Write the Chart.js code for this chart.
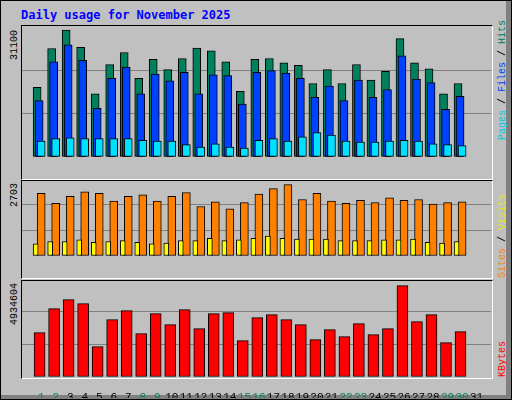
<!DOCTYPE html>
<html>
<head>
<meta charset="utf-8">
<script src="https://cdn.jsdelivr.net/npm/chart.js@4"></script>
<style>
  body { margin: 0; background: #c0c0c0; }
  #frame { position: absolute; left: 0; top: 0; width: 510px; height: 398px; border: 1px solid #000; background: #c0c0c0; overflow: hidden; }
  #bevel { position: absolute; left: 0; top: 0; width: 505px; height: 394px; border-right: 5px solid #808080; border-bottom: 4px solid #808080; }
  .title { position: absolute; left: 20px; top: 7px; font: bold 12px "DejaVu Sans Mono", monospace; color: #0000ff; }
  .panel { position: absolute; left: 20px; width: 470px; border: 1px solid; border-color: #000 #fff #fff #000; z-index: 2; pointer-events: none; }
  canvas { position: absolute; left: 21px; z-index: 1; }
  .lbl { position: absolute; font: 10px "Liberation Mono", monospace; white-space: nowrap; transform-origin: 0 0; transform: rotate(-90deg); }
</style>
</head>
<body>
<div id="frame">
  <div id="bevel"></div>
  <div class="title">Daily usage for November 2025</div>

  <div class="panel" style="top:24px;height:153px"></div>
  <div class="panel" style="top:179px;height:97px"></div>
  <div class="panel" style="top:279px;height:97px"></div>

  <canvas id="c1" width="469" height="151" style="top:26px"></canvas>
  <canvas id="c2" width="469" height="98" style="top:178px"></canvas>
  <canvas id="c3" width="469" height="120" style="top:277px"></canvas>

  <div class="lbl" style="left:8px;top:59px">31100</div>
  <div class="lbl" style="left:8px;top:206px">2703</div>
  <div class="lbl" style="left:8px;top:324px">4934604</div>

  <div class="lbl" style="left:496px;top:139px"><span style="color:#00c8e8">Pages</span> / <span style="color:#0040ff">Files</span> / <span style="color:#00805c">Hits</span></div>
  <div class="lbl" style="left:496px;top:277px"><span style="color:#ff8000">Sites</span> / <span style="color:#e8e800">Visits</span></div>
  <div class="lbl" style="left:496px;top:376px"><span style="color:#ff0000">KBytes</span></div>
</div>
<script>
  const days = Array.from({length: 31}, (_, i) => i + 1);
  const weekendDays = [1, 2, 8, 9, 15, 16, 22, 23, 29, 30];

  const hits = [16690, 25960, 30360, 26240, 15120, 22120, 25010, 18830, 23360, 20890,
    23570, 26040, 25420, 22740, 15740, 23360, 23570, 22540, 21920, 17590,
    20890, 17590, 22120, 18420, 20480, 28300, 22540, 21090, 15120, 17590];
  const files = [13470, 22740, 26860, 23150, 11620, 18830, 21510, 15120, 19860, 18210,
    20270, 15120, 19650, 19450, 12650, 20270, 20680, 20060, 18830, 14300,
    16970, 13470, 18420, 14300, 16150, 24180, 18620, 17800, 11410, 14500];
  const pages = [3790, 4410, 4610, 4410, 4410, 4410, 4410, 4000, 3790, 3790,
    2970, 2350, 3170, 2350, 2140, 4000, 4410, 3790, 4820, 5850,
    5230, 3790, 3580, 3580, 3790, 4000, 3790, 3170, 2970, 2760];
  const visits = [428, 510, 510, 564, 482, 510, 537, 482, 428, 455,
    537, 537, 619, 537, 564, 619, 701, 619, 592, 592,
    592, 537, 537, 537, 564, 564, 592, 482, 455, 510];
  const sites = [2202, 1847, 2093, 2257, 2202, 1929, 2093, 2148, 1929, 2093,
    2230, 1738, 1902, 1656, 1875, 2175, 2366, 2503, 1984, 2202,
    1929, 1847, 1957, 1875, 2038, 1957, 1984, 1820, 1875, 1902];
  const kbytes = [2209800, 3406100, 3854700, 3655300, 1512000, 2857800, 3306400, 2160000, 3156900, 2608600,
    3356200, 2409200, 3156900, 3206700, 1811000, 2957500, 3107000, 2857800, 2608600, 1860900,
    2359300, 2010400, 2658400, 2110100, 2409200, 4552500, 2758100, 3107000, 1711300, 2259600];

  const maxHits = 31100, maxSites = 2703, maxKbytes = 4934604;

  Chart.defaults.animation = false;
  Chart.defaults.font.family = '"Liberation Mono", monospace';
  Chart.defaults.font.size = 11;

  function pts(values, shift) {
    return values.map((v, i) => ({x: days[i] + shift, y: v}));
  }

  function bars(values, shift, color, width) {
    return {
      data: pts(values, shift),
      backgroundColor: color,
      borderColor: '#000',
      borderWidth: 1,
      borderSkipped: false,
      barThickness: width,
      grouped: false
    };
  }

  function makeChart(id, datasets, max, showDays) {
    return new Chart(document.getElementById(id), {
      type: 'bar',
      data: {datasets: datasets},
      options: {
        responsive: false,
        devicePixelRatio: 1,
        layout: {padding: 0},
        plugins: {legend: {display: false}, tooltip: {enabled: false}},
        scales: {
          x: {
            type: 'linear',
            min: 0.2,
            max: 31.47,
            display: showDays,
            grid: {display: false},
            border: {display: false},
            afterBuildTicks: s => { s.ticks = days.map(d => ({value: d})); },
            afterFit: s => { s.height = 21; },
            ticks: {
              padding: 5,
              maxRotation: 0,
              autoSkip: false,
              color: c => weekendDays.includes(c.tick.value) ? '#00805c' : '#000',
              callback: v => String(v)
            }
          },
          y: {
            display: true,
            min: 0,
            max: max,
            afterBuildTicks: s => { s.ticks = [0, 1, 2, 3].map(k => ({value: max * k / 3})); },
            afterFit: s => { s.width = 0; },
            ticks: {display: false},
            border: {display: false},
            grid: {
              drawTicks: false,
              color: c => (c.tick.value > 0 && c.tick.value < max) ? '#808080' : 'rgba(0,0,0,0)',
              lineWidth: 1
            }
          }
        }
      }
    });
  }

  makeChart('c1', [
    bars(pages, 0, '#00e0ff', 8),
    bars(files, -0.14, '#0040ff', 8),
    bars(hits, -0.28, '#00805c', 8)
  ], maxHits, false);

  makeChart('c2', [
    bars(visits, -0.38, '#ffff00', 5),
    bars(sites, 0, '#ff8000', 8)
  ], maxSites, false);

  makeChart('c3', [
    bars(kbytes, -0.11, '#ff0000', 11)
  ], maxKbytes, true);
</script>
</body>
</html>
